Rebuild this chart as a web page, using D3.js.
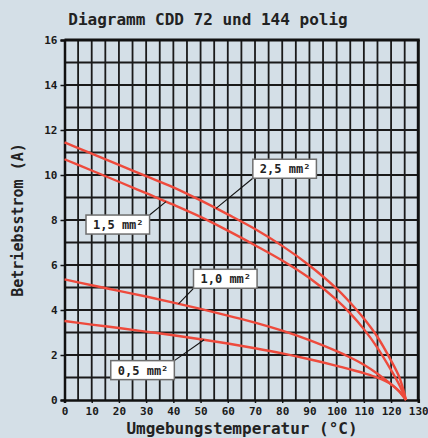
<!DOCTYPE html>
<html><head><meta charset="utf-8">
<script src="https://cdn.jsdelivr.net/npm/d3@7"></script>
<style>body{margin:0;background:#d4dfe7;} svg{display:block}</style>
</head><body>
<svg id="c" width="428" height="438"></svg>
<script>
// ---- data ----
const temps = [0, 10, 20, 30, 40, 50, 60, 70, 80, 90, 100, 105, 110, 115, 120, 123, 125.5];
const s25 = [11.45, 10.95, 10.45, 9.95, 9.45, 8.87, 8.25, 7.6, 6.85, 5.98, 4.95, 4.32, 3.62, 2.8, 1.75, 1.02, 0];
const s15 = [10.70, 10.2, 9.70, 9.19, 8.68, 8.14, 7.53, 6.88, 6.2, 5.42, 4.45, 3.85, 3.15, 2.32, 1.33, 0.68, 0];
const s10 = [5.36, 5.1, 4.85, 4.6, 4.33, 4.05, 3.75, 3.44, 3.08, 2.66, 2.17, 1.89, 1.57, 1.17, 0.7, 0.38, 0];
const s05 = [3.51, 3.35, 3.2, 3.04, 2.88, 2.7, 2.51, 2.3, 2.07, 1.81, 1.52, 1.36, 1.19, 0.99, 0.7, 0.38, 0];
const seriesNames = ["2,5 mm²", "1,5 mm²", "1,0 mm²", "0,5 mm²"];
const xTicks = [0,10,20,30,40,50,60,70,80,90,100,110,120,130];
const yTicks = [0,2,4,6,8,10,12,14,16];
// label boxes: box left (temp), box top (value), leader target (temp), leader corner
const labelLeft = [69.2, 7.9, 47.4, 17.0];
const labelTop = [10.70, 8.22, 5.81, 1.75];
const leaderAt = [55.7, 37.3, 41.9, 51.3];
const leaderCorner = ["bl", "tr", "bl", "tr"];
const title = "Diagramm CDD 72 und 144 polig";
const xTitle = "Umgebungstemperatur (°C)";
const yTitle = "Betriebsstrom (A)";

// ---- chart ----
const svg = d3.select("#c");
const W = 428, H = 438;
const m = {l: 64.5, r: 418.3, t: 40, b: 400};
const x = d3.scaleLinear().domain([0, 130]).range([m.l, m.r]);
const y = d3.scaleLinear().domain([0, 16]).range([m.b, m.t]);
const FONT = "'DejaVu Sans Mono', monospace";

svg.append("rect").attr("width", W).attr("height", H).attr("fill", "#d4dfe7");

// grid
const g = svg.append("g");
g.selectAll("line.v").data(d3.range(5, 130, 5)).join("line")
  .attr("x1", d => x(d)).attr("x2", d => x(d)).attr("y1", y(16)).attr("y2", y(0))
  .attr("stroke", "#1a1a1a").attr("stroke-width", 1.8);
g.selectAll("line.h").data(d3.range(1, 16, 1)).join("line")
  .attr("x1", x(0)).attr("x2", x(130)).attr("y1", d => y(d)).attr("y2", d => y(d))
  .attr("stroke", "#1a1a1a").attr("stroke-width", 1.8);
// borders
g.append("line").attr("x1", x(0)).attr("x2", x(130)+1.5).attr("y1", y(16)).attr("y2", y(16)).attr("stroke", "#111").attr("stroke-width", 3);
g.append("line").attr("x1", x(130)).attr("x2", x(130)).attr("y1", y(16)).attr("y2", y(0)).attr("stroke", "#111").attr("stroke-width", 3);

// axes
const xAxis = d3.axisBottom(x).tickValues(xTicks).tickSize(3).tickPadding(4).tickFormat(d3.format("d"));
const yAxis = d3.axisLeft(y).tickValues(yTicks).tickSize(4).tickPadding(3).tickFormat(d3.format("d"));
const gx = svg.append("g").attr("transform", `translate(0,${m.b})`).call(xAxis);
const gy = svg.append("g").attr("transform", `translate(${m.l},0)`).call(yAxis);
[gx, gy].forEach(a => {
  a.select(".domain").attr("stroke", "#111").attr("stroke-width", 2.5);
  a.selectAll(".tick line").attr("stroke", "#111").attr("stroke-width", 1.5);
  a.selectAll("text").attr("font-family", FONT).attr("font-weight", "bold")
    .attr("font-size", 11).attr("fill", "#1a1a1a");
});

// curves
const allSeries = [s25, s15, s10, s05];
const line = d3.line().x((d, i) => x(temps[i])).y(d => y(d)).curve(d3.curveCatmullRom.alpha(0.5));
svg.append("g").selectAll("path").data(allSeries).join("path")
  .attr("d", d => line(d)).attr("fill", "none")
  .attr("stroke", "#ee4a3c").attr("stroke-width", 2.4);

// labels
function valAt(s, t) {
  const i = d3.bisectRight(temps, t) - 1;
  const f = (t - temps[i]) / (temps[i+1] - temps[i]);
  return s[i] + f * (s[i+1] - s[i]);
}
const lg = svg.append("g");
seriesNames.forEach((name, k) => {
  const bx = x(labelLeft[k]), by = y(labelTop[k]);
  const t = lg.append("text").text(name)
    .attr("font-family", FONT).attr("font-weight", "bold").attr("font-size", 12)
    .attr("fill", "#222").attr("x", bx + 7).attr("y", by + 14);
  const w = t.node().getComputedTextLength() + 13, h = 19;
  const cx = leaderCorner[k] === "tr" ? bx + w : bx;
  const cy = leaderCorner[k] === "tr" ? by : by + h;
  lg.insert("line", "text").attr("x1", cx).attr("y1", cy)
    .attr("x2", x(leaderAt[k])).attr("y2", y(valAt(allSeries[k], leaderAt[k])))
    .attr("stroke", "#111").attr("stroke-width", 1.1);
  lg.insert("rect", "text").attr("x", bx).attr("y", by).attr("width", w).attr("height", h)
    .attr("fill", "#fff").attr("stroke", "#6e6e6e").attr("stroke-width", 1.5);
});

// titles
svg.append("text").text(title).attr("x", 208).attr("y", 25).attr("text-anchor", "middle")
  .attr("font-family", FONT).attr("font-weight", "bold").attr("font-size", 16).attr("fill", "#222");
svg.append("text").text(xTitle).attr("x", 242).attr("y", 434).attr("text-anchor", "middle")
  .attr("font-family", FONT).attr("font-weight", "bold").attr("font-size", 16).attr("fill", "#222");
svg.append("text").text(yTitle).attr("transform", "translate(23,220) rotate(-90)").attr("text-anchor", "middle")
  .attr("font-family", FONT).attr("font-weight", "bold").attr("font-size", 15).attr("fill", "#222");
</script>
</body></html>
